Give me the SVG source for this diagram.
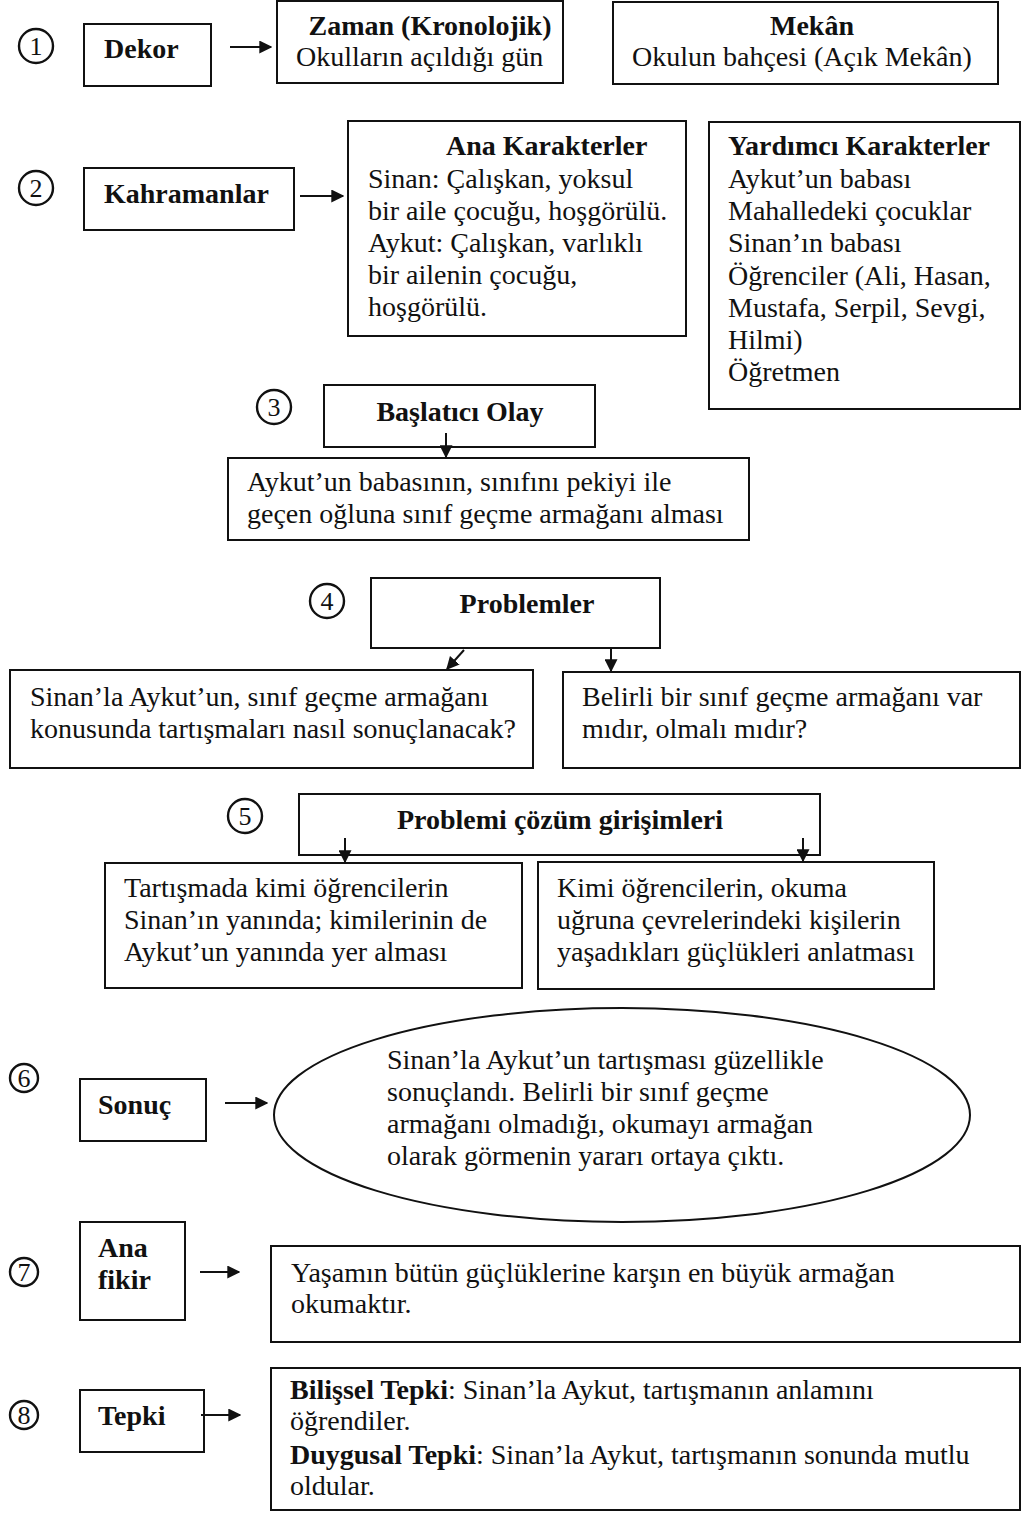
<svg xmlns="http://www.w3.org/2000/svg" width="1026" height="1515" viewBox="0 0 1026 1515">
<defs>
<style>
.bx{fill:none;stroke:#111;stroke-width:2}
.t{font-family:"Liberation Serif","Times New Roman",serif;font-size:28px;fill:#111}
.b{font-weight:bold}
.c{text-anchor:middle}
.n{font-family:"Liberation Serif","Times New Roman",serif;font-size:26px;fill:#111;text-anchor:middle}
.ln{stroke:#111;stroke-width:2;fill:none}
.cr{stroke:#111;stroke-width:2.4;fill:none}
</style>
<marker id="ah" viewBox="0 0 10 10" refX="9" refY="5" markerWidth="6.5" markerHeight="6.5" orient="auto" markerUnits="strokeWidth">
<path d="M0,0 L10,5 L0,10 z" fill="#111"/>
</marker>
</defs>
<rect width="1026" height="1515" fill="#fff"/>

<g id="step-numbers">
<g id="n1"><circle class="cr" cx="36" cy="46" r="17"/><text class="n" x="36" y="55">1</text></g>
<g id="n2"><circle class="cr" cx="36" cy="188" r="17"/><text class="n" x="36" y="197">2</text></g>
<g id="n3"><circle class="cr" cx="274" cy="407" r="17"/><text class="n" x="274" y="416">3</text></g>
<g id="n4"><circle class="cr" cx="327" cy="601" r="17"/><text class="n" x="327" y="610">4</text></g>
<g id="n5"><circle class="cr" cx="245" cy="816" r="17"/><text class="n" x="245" y="825">5</text></g>
<g id="n6"><circle class="cr" cx="24" cy="1078" r="14"/><text class="n" x="24" y="1087">6</text></g>
<g id="n7"><circle class="cr" cx="24" cy="1272" r="14"/><text class="n" x="24" y="1281">7</text></g>
<g id="n8"><circle class="cr" cx="24" cy="1415" r="14"/><text class="n" x="24" y="1424">8</text></g>
</g>

<g id="dekor"><rect class="bx" x="84" y="24" width="127" height="62"/><text class="t b" x="104" y="58">Dekor</text></g>
<g id="zaman"><rect class="bx" x="277" y="1" width="286" height="82"/>
<text class="t b c" x="430" y="35">Zaman (Kronolojik)</text>
<text class="t" x="296" y="66">Okulların açıldığı gün</text></g>
<g id="mekan"><rect class="bx" x="613" y="2" width="385" height="82"/>
<text class="t b c" x="812" y="35">Mekân</text>
<text class="t" x="632" y="66">Okulun bahçesi (Açık Mekân)</text></g>

<g id="kahramanlar"><rect class="bx" x="84" y="168" width="210" height="62"/><text class="t b" x="104" y="203">Kahramanlar</text></g>
<g id="ana-karakterler"><rect class="bx" x="348" y="121" width="338" height="215"/>
<text class="t b" x="446" y="155">Ana Karakterler</text>
<text class="t" x="368" y="188">Sinan: Çalışkan, yoksul</text>
<text class="t" x="368" y="220">bir aile çocuğu, hoşgörülü.</text>
<text class="t" x="368" y="252">Aykut: Çalışkan, varlıklı</text>
<text class="t" x="368" y="284">bir ailenin çocuğu,</text>
<text class="t" x="368" y="316">hoşgörülü.</text></g>
<g id="yardimci"><rect class="bx" x="709" y="122" width="311" height="287"/>
<text class="t b" x="728" y="155">Yardımcı Karakterler</text>
<text class="t" x="728" y="188">Aykut’un babası</text>
<text class="t" x="728" y="220">Mahalledeki çocuklar</text>
<text class="t" x="728" y="252">Sinan’ın babası</text>
<text class="t" x="728" y="285">Öğrenciler (Ali, Hasan,</text>
<text class="t" x="728" y="317">Mustafa, Serpil, Sevgi,</text>
<text class="t" x="728" y="349">Hilmi)</text>
<text class="t" x="728" y="381">Öğretmen</text></g>

<g id="baslatici"><rect class="bx" x="324" y="385" width="271" height="62"/><text class="t b c" x="460" y="421">Başlatıcı Olay</text></g>
<g id="olay"><rect class="bx" x="228" y="458" width="521" height="82"/>
<text class="t" x="247" y="491">Aykut’un babasının, sınıfını pekiyi ile</text>
<text class="t" x="247" y="523">geçen oğluna sınıf geçme armağanı alması</text></g>

<g id="problemler"><rect class="bx" x="371" y="578" width="289" height="70"/><text class="t b c" x="527" y="613">Problemler</text></g>
<g id="problem1"><rect class="bx" x="10" y="670" width="523" height="98"/>
<text class="t" x="30" y="706">Sinan’la Aykut’un, sınıf geçme armağanı</text>
<text class="t" x="30" y="738">konusunda tartışmaları nasıl sonuçlanacak?</text></g>
<g id="problem2"><rect class="bx" x="563" y="672" width="457" height="96"/>
<text class="t" x="582" y="706">Belirli bir sınıf geçme armağanı var</text>
<text class="t" x="582" y="738">mıdır, olmalı mıdır?</text></g>

<g id="cozum"><rect class="bx" x="299" y="794" width="521" height="61"/><text class="t b c" x="560" y="829">Problemi çözüm girişimleri</text></g>
<g id="cozum1"><rect class="bx" x="105" y="863" width="417" height="125"/>
<text class="t" x="124" y="897">Tartışmada kimi öğrencilerin</text>
<text class="t" x="124" y="929">Sinan’ın yanında; kimilerinin de</text>
<text class="t" x="124" y="961">Aykut’un yanında yer alması</text></g>
<g id="cozum2"><rect class="bx" x="538" y="862" width="396" height="127"/>
<text class="t" x="557" y="897">Kimi öğrencilerin, okuma</text>
<text class="t" x="557" y="929">uğruna çevrelerindeki kişilerin</text>
<text class="t" x="557" y="961">yaşadıkları güçlükleri anlatması</text></g>

<g id="sonuc"><rect class="bx" x="80" y="1079" width="126" height="62"/><text class="t b" x="98" y="1114">Sonuç</text></g>
<g id="sonuc-metin"><ellipse class="bx" cx="622" cy="1115" rx="348" ry="107"/>
<text class="t" x="387" y="1069">Sinan’la Aykut’un tartışması güzellikle</text>
<text class="t" x="387" y="1101">sonuçlandı. Belirli bir sınıf geçme</text>
<text class="t" x="387" y="1133">armağanı olmadığı, okumayı armağan</text>
<text class="t" x="387" y="1165">olarak görmenin yararı ortaya çıktı.</text></g>

<g id="ana-fikir"><rect class="bx" x="80" y="1222" width="105" height="98"/>
<text class="t b" x="98" y="1257">Ana</text><text class="t b" x="98" y="1289">fikir</text></g>
<g id="ana-fikir-metin"><rect class="bx" x="271" y="1246" width="749" height="96"/>
<text class="t" x="291" y="1282">Yaşamın bütün güçlüklerine karşın en büyük armağan</text>
<text class="t" x="291" y="1313">okumaktır.</text></g>

<g id="tepki"><rect class="bx" x="80" y="1390" width="124" height="62"/><text class="t b" x="98" y="1425">Tepki</text></g>
<g id="tepki-metin"><rect class="bx" x="271" y="1368" width="749" height="142"/>
<text class="t" x="290" y="1399"><tspan class="b">Bilişsel Tepki</tspan>: Sinan’la Aykut, tartışmanın anlamını</text>
<text class="t" x="290" y="1430">öğrendiler.</text>
<text class="t" x="290" y="1464"><tspan class="b">Duygusal Tepki</tspan>: Sinan’la Aykut, tartışmanın sonunda mutlu</text>
<text class="t" x="290" y="1495">oldular.</text></g>

<g id="connectors">
<line class="ln" x1="230" y1="47" x2="271" y2="47" marker-end="url(#ah)"/>
<line class="ln" x1="300" y1="196" x2="343" y2="196" marker-end="url(#ah)"/>
<line class="ln" x1="446" y1="433" x2="446" y2="457" marker-end="url(#ah)"/>
<line class="ln" x1="464" y1="650" x2="447" y2="669" marker-end="url(#ah)"/>
<line class="ln" x1="611" y1="648" x2="611" y2="671" marker-end="url(#ah)"/>
<line class="ln" x1="345" y1="838" x2="345" y2="862" marker-end="url(#ah)"/>
<line class="ln" x1="803" y1="838" x2="803" y2="861" marker-end="url(#ah)"/>
<line class="ln" x1="225" y1="1103" x2="267" y2="1103" marker-end="url(#ah)"/>
<line class="ln" x1="200" y1="1272" x2="239" y2="1272" marker-end="url(#ah)"/>
<line class="ln" x1="201" y1="1415" x2="240" y2="1415" marker-end="url(#ah)"/>
</g>
</svg>
